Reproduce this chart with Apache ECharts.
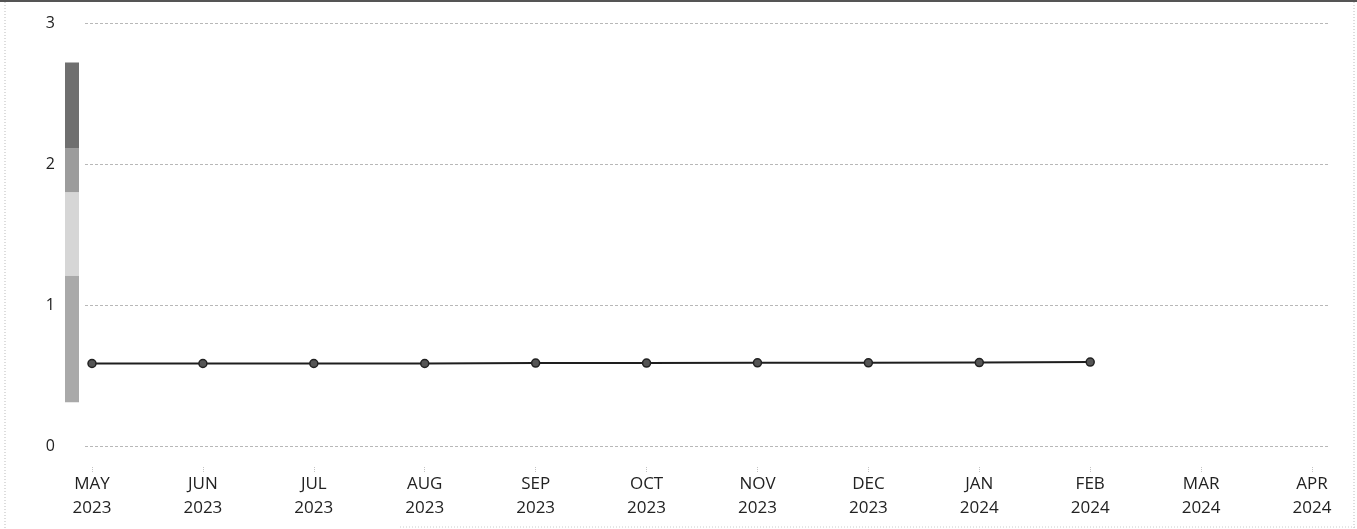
<!DOCTYPE html>
<html>
<head>
<meta charset="utf-8">
<script src="https://cdn.jsdelivr.net/npm/echarts@6/dist/echarts.min.js"></script>
<style>
html,body{margin:0;padding:0;background:#fff;}
#c{width:1357px;height:529px;}
</style>
</head>
<body>
<div id="c"></div>
<script>
// Data
const months = ['MAY','JUN','JUL','AUG','SEP','OCT','NOV','DEC','JAN','FEB','MAR','APR'];
const years  = ['2023','2023','2023','2023','2023','2023','2023','2023','2024','2024','2024','2024'];
const values = [0.585, 0.585, 0.585, 0.585, 0.588, 0.588, 0.59, 0.59, 0.592, 0.595];
const yTicks = [0, 1, 2, 3];
// Reference band on the left (boundaries, bottom to top) and its shades
const bandBounds = [0.31, 1.21, 1.80, 2.11, 2.72];
const bandColors = ['#a9a9a9', '#d6d6d6', '#9c9c9c', '#6f6f6f'];

const idx = months.map((m, i) => i);
const font = "'Open Sans', 'DejaVu Sans', sans-serif";

const bandSeries = [{
  type: 'bar', xAxisIndex: 2, yAxisIndex: 1, stack: 'band', barWidth: '100%',
  data: [bandBounds[0]], itemStyle: { color: 'transparent' }, silent: true
}];
for (let i = 0; i < bandColors.length; i++) {
  bandSeries.push({
    type: 'bar', xAxisIndex: 2, yAxisIndex: 1, stack: 'band', barWidth: '100%',
    data: [+(bandBounds[i + 1] - bandBounds[i]).toFixed(3)],
    itemStyle: { color: bandColors[i] }, silent: true
  });
}

const chart = echarts.init(document.getElementById('c'), null, { renderer: 'canvas' });
chart.setOption({
  animation: false,
  backgroundColor: '#ffffff',
  grid: [
    { left: 85, right: 29, top: 23, bottom: 83 },
    { left: 65, width: 14, top: 23, bottom: 83 }
  ],
  xAxis: [
    {
      type: 'value', gridIndex: 0, min: -0.063, max: 11.144,
      axisLine: { show: false }, axisTick: { show: false }, splitLine: { show: false },
      axisLabel: {
        customValues: idx, margin: 26, color: '#222', fontSize: 17, fontFamily: font,
        lineHeight: 24, align: 'center',
        formatter: v => { const i = Math.round(v); return months[i] + '\n' + years[i]; }
      }
    },
    {
      type: 'value', gridIndex: 0, min: -0.063, max: 11.144, position: 'bottom', offset: 21,
      axisLine: { show: false }, splitLine: { show: false },
      axisLabel: { show: false },
      axisTick: { show: true, customValues: idx, length: 5, lineStyle: { color: '#c4c4c4', type: 'dotted', width: 1 } }
    },
    {
      type: 'category', gridIndex: 1, data: ['band'], show: false
    }
  ],
  yAxis: [
    {
      type: 'value', gridIndex: 0, min: 0, max: 3, interval: 1,
      axisLine: { show: false }, axisTick: { show: false },
      axisLabel: { margin: 30, color: '#222', fontSize: 16, fontFamily: font,
        customValues: yTicks },
      splitLine: { show: true, lineStyle: { color: '#b8b8b8', type: [3, 2], width: 1 } }
    },
    {
      type: 'value', gridIndex: 1, min: 0, max: 3, show: false
    }
  ],
  series: [
    {
      type: 'line', xAxisIndex: 0, yAxisIndex: 0,
      data: values.map((v, i) => [i, v]),
      symbol: 'circle', symbolSize: 8,
      lineStyle: { color: '#1e1e1e', width: 2 },
      itemStyle: { color: '#555', borderColor: '#222', borderWidth: 1.5 }
    }
  ].concat(bandSeries),
  graphic: [
    { type: 'line', shape: { x1: 0, y1: 1, x2: 1357, y2: 1 }, style: { stroke: '#555', lineWidth: 2 } },
    { type: 'line', shape: { x1: 5, y1: 2, x2: 5, y2: 529 }, style: { stroke: '#bbb', lineWidth: 1, lineDash: [1, 2] } },
    { type: 'line', shape: { x1: 1354, y1: 2, x2: 1354, y2: 529 }, style: { stroke: '#bbb', lineWidth: 1, lineDash: [1, 2] } },
    { type: 'line', shape: { x1: 400, y1: 527, x2: 1357, y2: 527 }, style: { stroke: '#ccc', lineWidth: 1, lineDash: [1, 2] } }
  ]
});
</script>
</body>
</html>
